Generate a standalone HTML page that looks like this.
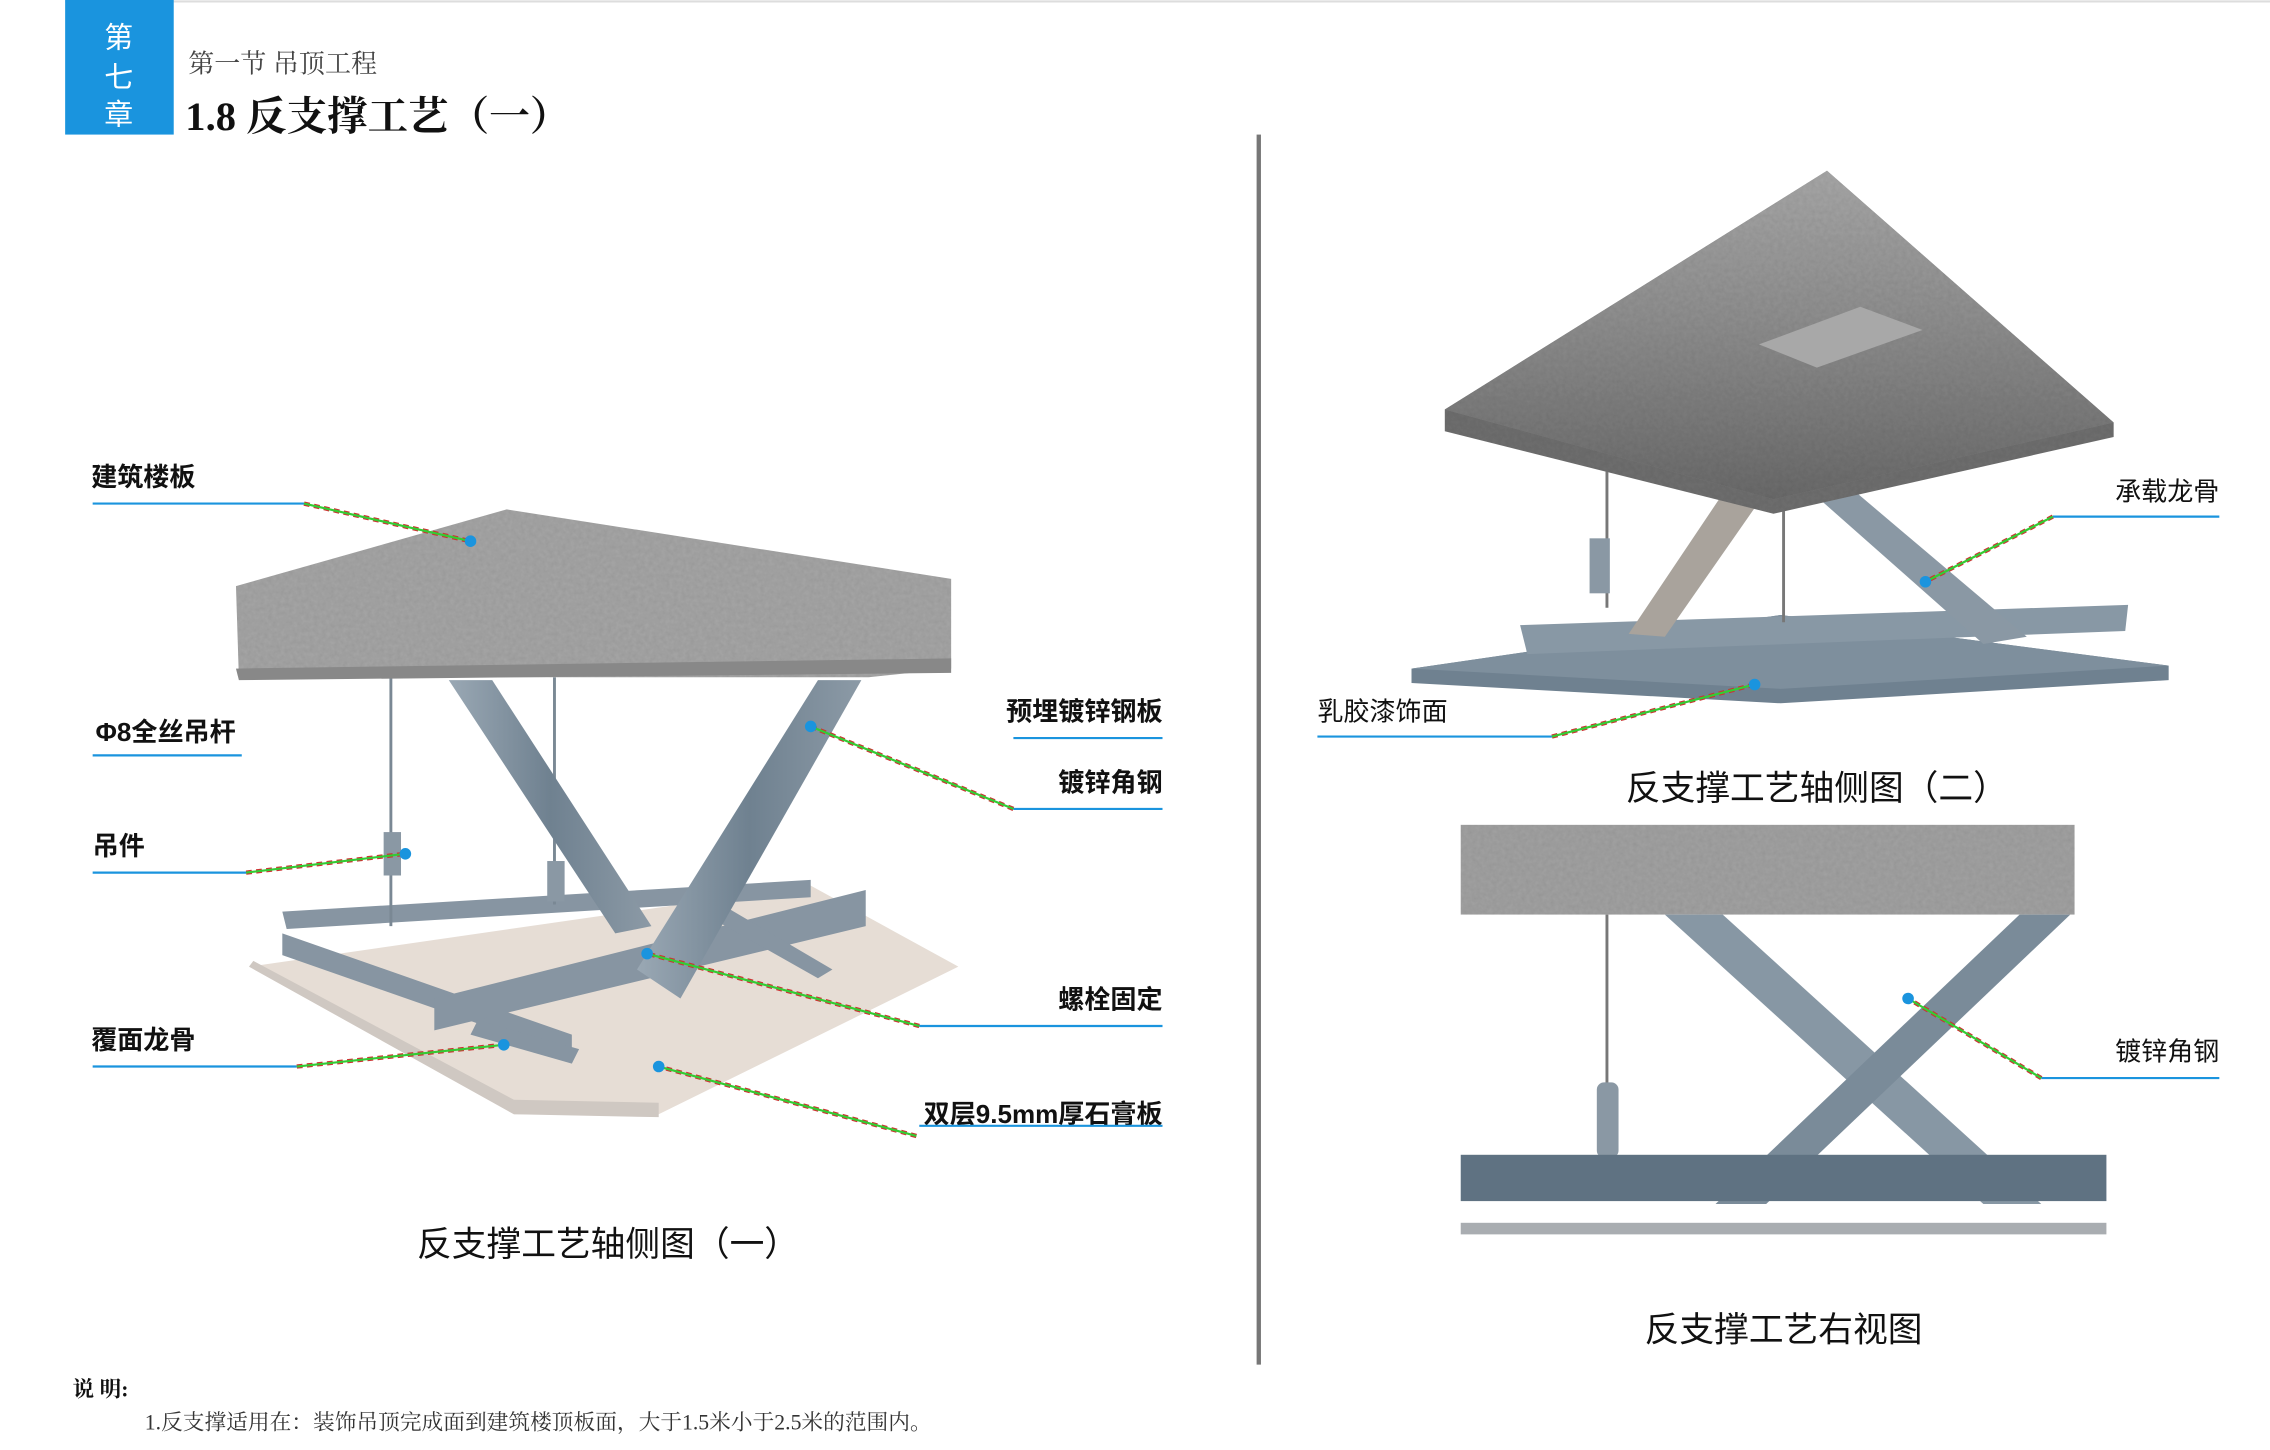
<!DOCTYPE html>
<html><head><meta charset="utf-8"><style>
html,body{margin:0;padding:0;background:#fff;}
svg{display:block;}
.t{font-family:"Liberation Sans","Noto Sans CJK SC",sans-serif;fill:#111;}
.s{font-family:"Liberation Serif","Noto Serif CJK SC",serif;}
</style></head><body>
<svg width="2270" height="1450" viewBox="0 0 1568 1002" preserveAspectRatio="none" xmlns="http://www.w3.org/2000/svg">
<defs>
<filter id="cn" x="0" y="0" width="100%" height="100%">
<feTurbulence type="fractalNoise" baseFrequency="0.35" numOctaves="2" seed="3"/>
<feColorMatrix type="matrix" values="0 0 0 0 0.5  0 0 0 0 0.5  0 0 0 0 0.5  0 0 0 0.35 0"/>
<feComposite in2="SourceGraphic" operator="in"/>
<feBlend in2="SourceGraphic" mode="multiply"/>
</filter>
<linearGradient id="st" x1="0" y1="0" x2="1" y2="0"><stop offset="0" stop-color="#9aa8b4"/><stop offset="0.5" stop-color="#6f8190"/><stop offset="1" stop-color="#8c9aa6"/></linearGradient>
<linearGradient id="sl" x1="0" y1="0" x2="0" y2="1"><stop offset="0" stop-color="#a8a8a8"/><stop offset="0.45" stop-color="#8f8f8f"/><stop offset="1" stop-color="#6a6a6a"/></linearGradient>
</defs>
<rect width="1568" height="1002" fill="#fff"/>
<line x1="45" y1="1" x2="1568" y2="1" stroke="#ddd" stroke-width="1.5"/>
<rect x="45" y="0" width="75" height="93" fill="#1a94de"/>
<text x="82" y="33" class="t" font-size="20" style="fill:#fff" text-anchor="middle">第</text>
<text x="82" y="60" class="t" font-size="20" style="fill:#fff" text-anchor="middle">七</text>
<text x="82" y="86" class="t" font-size="20" style="fill:#fff" text-anchor="middle">章</text>
<text x="130" y="50" class="t s" font-size="18" style="fill:#444">第一节 吊顶工程</text>
<text x="128" y="90" class="t s" font-size="28" font-weight="bold">1.8 反支撑工艺（一）</text>
<rect x="868" y="93" width="3" height="850" fill="#777"/>

<!-- LEFT DIAGRAM -->
<polygon points="172,668 560,612 662,668 455,770 355,770" fill="#e6ddd5"/>
<polygon points="172,668 355,770 455,772 455,762 355,760 175,664" fill="#cfc8c2"/>
<g fill="#8795a2">
<polygon points="195,630 560,608 560,620 198,642"/>
<polygon points="195,645 395,715 395,730 195,660"/>
<polygon points="300,690 598,615 598,640 300,712"/>
<polygon points="330,705 400,725 395,735 325,715"/>
<polygon points="490,620 575,670 565,676 480,628"/>
</g>
<line x1="270" y1="468" x2="270" y2="640" stroke="#7a8894" stroke-width="2"/>
<line x1="383" y1="468" x2="383" y2="625" stroke="#7a8894" stroke-width="2"/>
<rect x="265" y="575" width="12" height="30" fill="#8a98a4"/>
<rect x="378" y="595" width="12" height="28" fill="#8a98a4"/>
<polygon points="310,470 340,470 450,640 425,645" fill="url(#st)"/>
<polygon points="565,470 595,470 470,690 440,670" fill="url(#st)"/>
<polygon points="163,405 350,352 657,400 657,462 600,468 165,468" fill="#a6a6a6" filter="url(#cn)"/>
<polygon points="163,462 657,455 657,465 165,470" fill="#888"/>
<text x="63" y="336" class="t" font-size="18" font-weight="bold">建筑楼板</text>
<line x1="64" y1="348" x2="210" y2="348" stroke="#1a94de" stroke-width="1.5"/>
<line x1="210" y1="348" x2="325" y2="374" stroke="#c33" stroke-width="3" stroke-dasharray="4 3"/>
<line x1="210" y1="348" x2="325" y2="374" stroke="#3c3" stroke-width="1.5"/>
<circle cx="325" cy="374" r="4" fill="#1a94de"/>
<text x="66" y="512" class="t" font-size="18" font-weight="bold">Φ8全丝吊杆</text>
<line x1="64" y1="522" x2="167" y2="522" stroke="#1a94de" stroke-width="1.5"/>
<text x="64" y="591" class="t" font-size="18" font-weight="bold">吊件</text>
<line x1="64" y1="603" x2="170" y2="603" stroke="#1a94de" stroke-width="1.5"/>
<line x1="170" y1="603" x2="280" y2="590" stroke="#c33" stroke-width="3" stroke-dasharray="4 3"/>
<line x1="170" y1="603" x2="280" y2="590" stroke="#3c3" stroke-width="1.5"/>
<circle cx="280" cy="590" r="4" fill="#1a94de"/>
<text x="63" y="725" class="t" font-size="18" font-weight="bold">覆面龙骨</text>
<line x1="64" y1="737" x2="205" y2="737" stroke="#1a94de" stroke-width="1.5"/>
<line x1="205" y1="737" x2="348" y2="722" stroke="#c33" stroke-width="3" stroke-dasharray="4 3"/>
<line x1="205" y1="737" x2="348" y2="722" stroke="#3c3" stroke-width="1.5"/>
<circle cx="348" cy="722" r="4" fill="#1a94de"/>
<text x="803" y="498" class="t" font-size="18" font-weight="bold" text-anchor="end">预埋镀锌钢板</text>
<line x1="700" y1="510" x2="803" y2="510" stroke="#1a94de" stroke-width="1.5"/>
<text x="803" y="547" class="t" font-size="18" font-weight="bold" text-anchor="end">镀锌角钢</text>
<line x1="700" y1="559" x2="803" y2="559" stroke="#1a94de" stroke-width="1.5"/>
<line x1="700" y1="559" x2="560" y2="502" stroke="#c33" stroke-width="3" stroke-dasharray="4 3"/>
<line x1="700" y1="559" x2="560" y2="502" stroke="#3c3" stroke-width="1.5"/>
<circle cx="560" cy="502" r="4" fill="#1a94de"/>
<text x="803" y="697" class="t" font-size="18" font-weight="bold" text-anchor="end">螺栓固定</text>
<line x1="635" y1="709" x2="803" y2="709" stroke="#1a94de" stroke-width="1.5"/>
<line x1="635" y1="709" x2="447" y2="659" stroke="#c33" stroke-width="3" stroke-dasharray="4 3"/>
<line x1="635" y1="709" x2="447" y2="659" stroke="#3c3" stroke-width="1.5"/>
<circle cx="447" cy="659" r="4" fill="#1a94de"/>
<text x="803" y="776" class="t" font-size="18" font-weight="bold" text-anchor="end">双层9.5mm厚石膏板</text>
<line x1="635" y1="778" x2="803" y2="778" stroke="#1a94de" stroke-width="1.5"/>
<line x1="633" y1="785" x2="455" y2="737" stroke="#c33" stroke-width="3" stroke-dasharray="4 3"/>
<line x1="633" y1="785" x2="455" y2="737" stroke="#3c3" stroke-width="1.5"/>
<circle cx="455" cy="737" r="4" fill="#1a94de"/>
<text x="420" y="868" class="t" font-size="24" text-anchor="middle">反支撑工艺轴侧图（一）</text>

<!-- RIGHT TOP DIAGRAM -->
<polygon points="975,462 1230,425 1498,460 1498,470 1230,486 975,472" fill="#6f8190"/>
<polygon points="975,462 1230,425 1498,460 1230,476" fill="#7e8f9d"/>
<polygon points="1050,432 1470,418 1468,436 1055,452" fill="#8898a5"/>
<polygon points="1240,330 1270,330 1400,440 1370,445" fill="#8a98a4"/>
<polygon points="1270,222 1295,232 1150,440 1125,438" fill="#a9a39c"/>
<line x1="1110" y1="300" x2="1110" y2="420" stroke="#777" stroke-width="2"/>
<line x1="1232" y1="320" x2="1232" y2="430" stroke="#777" stroke-width="2"/>
<rect x="1098" y="372" width="14" height="38" fill="#8a98a4"/>
<polygon points="998,283 1262,118 1460,292 1460,302 1225,355 998,298" fill="#6f6f6f" filter="url(#cn)"/>
<polygon points="998,283 1262,118 1460,292 1225,345" fill="url(#sl)" filter="url(#cn)"/>
<polygon points="1215,238 1285,212 1328,228 1255,254" fill="#a8a8a8"/>
<text x="1533" y="346" class="t" font-size="18" text-anchor="end">承载龙骨</text>
<line x1="1418" y1="357" x2="1533" y2="357" stroke="#1a94de" stroke-width="1.5"/>
<line x1="1418" y1="357" x2="1330" y2="402" stroke="#c33" stroke-width="3" stroke-dasharray="4 3"/>
<line x1="1418" y1="357" x2="1330" y2="402" stroke="#3c3" stroke-width="1.5"/>
<circle cx="1330" cy="402" r="4" fill="#1a94de"/>
<text x="910" y="498" class="t" font-size="18">乳胶漆饰面</text>
<line x1="910" y1="509" x2="1072" y2="509" stroke="#1a94de" stroke-width="1.5"/>
<line x1="1072" y1="509" x2="1212" y2="473" stroke="#c33" stroke-width="3" stroke-dasharray="4 3"/>
<line x1="1072" y1="509" x2="1212" y2="473" stroke="#3c3" stroke-width="1.5"/>
<circle cx="1212" cy="473" r="4" fill="#1a94de"/>
<text x="1255" y="553" class="t" font-size="24" text-anchor="middle">反支撑工艺轴侧图（二）</text>

<!-- RIGHT VIEW -->
<rect x="1009" y="570" width="424" height="62" fill="#a2a2a2" filter="url(#cn)"/>
<polygon points="1150,632 1190,632 1410,832 1370,832" fill="#8797a4"/>
<polygon points="1395,632 1430,632 1220,832 1185,832" fill="#7a8b99"/>
<line x1="1110" y1="632" x2="1110" y2="750" stroke="#777" stroke-width="2"/>
<rect x="1103" y="748" width="15" height="52" rx="5" fill="#8a98a4"/>
<rect x="1009" y="798" width="446" height="32" fill="#5f7282"/>
<rect x="1009" y="845" width="446" height="8" fill="#a9adb1"/>
<text x="1533" y="733" class="t" font-size="18" text-anchor="end">镀锌角钢</text>
<line x1="1410" y1="745" x2="1533" y2="745" stroke="#1a94de" stroke-width="1.5"/>
<line x1="1410" y1="745" x2="1318" y2="690" stroke="#c33" stroke-width="3" stroke-dasharray="4 3"/>
<line x1="1410" y1="745" x2="1318" y2="690" stroke="#3c3" stroke-width="1.5"/>
<circle cx="1318" cy="690" r="4" fill="#1a94de"/>
<text x="1232" y="927" class="t" font-size="24" text-anchor="middle">反支撑工艺右视图</text>

<text x="50" y="965" class="t s" font-size="15" font-weight="bold">说 明:</text>
<text x="100" y="988" class="t s" font-size="15" style="fill:#333">1.反支撑适用在：装饰吊顶完成面到建筑楼顶板面，大于1.5米小于2.5米的范围内。</text>
</svg>
</body></html>
